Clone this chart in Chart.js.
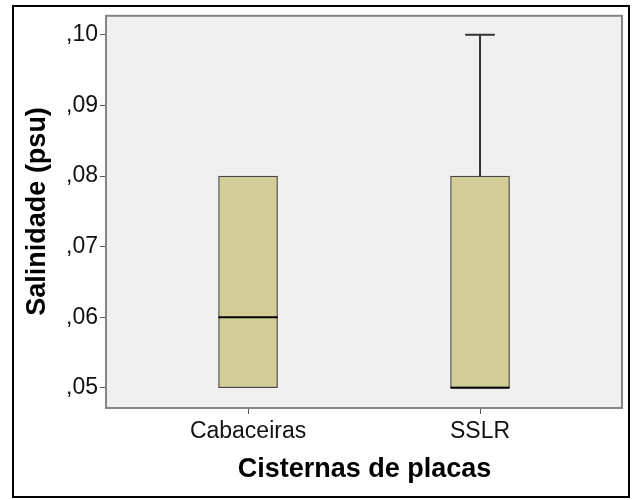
<!DOCTYPE html>
<html>
<head>
<meta charset="utf-8">
<script src="https://cdn.jsdelivr.net/npm/chart.js@4.4.1/dist/chart.umd.min.js"></script>
<style>
  html, body { margin: 0; padding: 0; background: #ffffff; }
  canvas { display: block; }
</style>
</head>
<body>
<canvas id="chart" width="638" height="500"></canvas>
<script>
const categories = ['Cabaceiras', 'SSLR'];
const minValues = [0.05, 0.05];
const q1Values = [0.05, 0.05];
const medianValues = [0.06, 0.05];
const q3Values = [0.08, 0.08];
const maxValues = [0.08, 0.10];
const yTickValues = [0.05, 0.06, 0.07, 0.08, 0.09, 0.10];

const fontFamily = '"Liberation Sans", Arial, sans-serif';
const boxWidth = 59;

const frame = {
  id: 'spssFrame',
  beforeDraw(chart) {
    const ctx = chart.ctx;
    const a = chart.chartArea;
    ctx.save();
    ctx.fillStyle = '#f0f0f0';
    ctx.fillRect(a.left, a.top, a.right - a.left, a.bottom - a.top);
    ctx.restore();
  },
  afterDraw(chart) {
    const ctx = chart.ctx;
    const a = chart.chartArea;
    ctx.save();
    ctx.strokeStyle = '#858585';
    ctx.lineWidth = 2;
    ctx.strokeRect(a.left - 1, a.top, a.right - a.left + 1, a.bottom - a.top + 1);
    // outer border of the whole graphic
    ctx.strokeStyle = '#000000';
    ctx.lineWidth = 2;
    ctx.strokeRect(13, 6, 616, 491);
    ctx.restore();
  }
};

// whiskers and medians, placed through the chart scales
const boxExtras = {
  id: 'boxExtras',
  afterDatasetsDraw(chart) {
    const ctx = chart.ctx;
    const xs = chart.scales.x;
    const ys = chart.scales.y;
    ctx.save();
    categories.forEach((c, i) => {
      const x = xs.getPixelForValue(i + 1);
      const half = boxWidth / 2;
      ctx.strokeStyle = '#333333';
      ctx.lineWidth = 2;
      if (maxValues[i] > q3Values[i]) {
        const yTop = ys.getPixelForValue(maxValues[i]);
        ctx.beginPath();
        ctx.moveTo(x, ys.getPixelForValue(q3Values[i]));
        ctx.lineTo(x, yTop);
        ctx.moveTo(x - half / 2, yTop);
        ctx.lineTo(x + half / 2, yTop);
        ctx.stroke();
      }
      if (minValues[i] < q1Values[i]) {
        const yBot = ys.getPixelForValue(minValues[i]);
        ctx.beginPath();
        ctx.moveTo(x, ys.getPixelForValue(q1Values[i]));
        ctx.lineTo(x, yBot);
        ctx.moveTo(x - half / 2, yBot);
        ctx.lineTo(x + half / 2, yBot);
        ctx.stroke();
      }
      const ym = ys.getPixelForValue(medianValues[i]);
      ctx.strokeStyle = '#000000';
      ctx.lineWidth = 2;
      ctx.beginPath();
      ctx.moveTo(x - half, ym);
      ctx.lineTo(x + half, ym);
      ctx.stroke();
    });
    ctx.restore();
  }
};

new Chart(document.getElementById('chart'), {
  type: 'bar',
  data: {
    datasets: [{
      data: categories.map((c, i) => ({ x: i + 1, y: [q1Values[i], q3Values[i]] })),
      backgroundColor: '#d3ce98',
      borderColor: '#474747',
      borderWidth: 1.2,
      borderSkipped: false,
      barThickness: boxWidth
    }]
  },
  options: {
    responsive: false,
    animation: false,
    layout: { padding: { left: 0, top: 11, right: 16, bottom: 0 } },
    plugins: {
      legend: { display: false },
      tooltip: { enabled: false }
    },
    scales: {
      x: {
        type: 'linear',
        min: 0.392,
        max: 2.612,
        offset: false,
        afterBuildTicks(scale) {
          scale.ticks = categories.map((c, i) => ({ value: i + 1 }));
        },
        afterFit(scale) {
          scale.height = 93;
        },
        grid: {
          offset: false,
          drawOnChartArea: false,
          drawTicks: true,
          tickLength: 7,
          color: '#555555'
        },
        border: { display: false },
        ticks: {
          padding: 4,
          maxRotation: 0,
          color: '#111111',
          font: { family: fontFamily, size: 23 },
          callback: (value) => categories[value - 1]
        },
        title: {
          display: true,
          text: 'Cisternas de placas',
          color: '#000000',
          padding: { top: 0, bottom: 14 },
          font: { family: fontFamily, size: 27, weight: 'bold' }
        }
      },
      y: {
        min: 0.04727,
        max: 0.1027,
        afterBuildTicks(scale) {
          scale.ticks = yTickValues.map(v => ({ value: v }));
        },
        afterFit(scale) {
          scale.width = 107;
        },
        grid: {
          drawOnChartArea: false,
          drawTicks: true,
          tickLength: 7,
          color: '#555555'
        },
        border: { display: false },
        ticks: {
          padding: 2,
          color: '#111111',
          font: { family: fontFamily, size: 23 },
          callback: (value) => ',' + value.toFixed(2).split('.')[1]
        },
        title: {
          display: true,
          text: 'Salinidade (psu)',
          color: '#000000',
          padding: { top: 21, bottom: 0 },
          font: { family: fontFamily, size: 27, weight: 'bold' }
        }
      }
    }
  },
  plugins: [frame, boxExtras]
});
</script>
</body>
</html>
